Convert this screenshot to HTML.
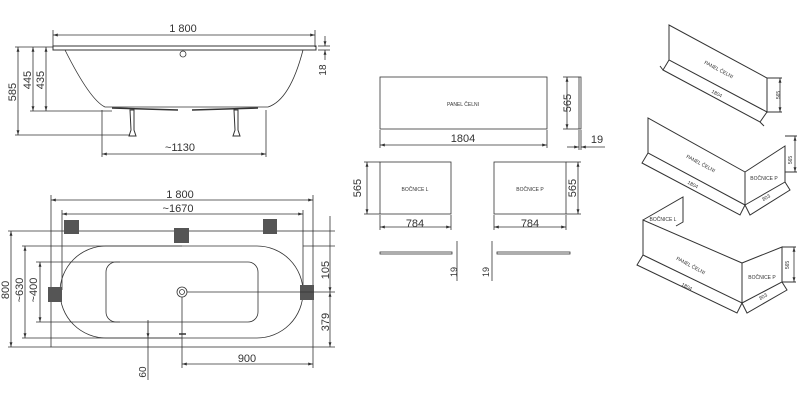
<!DOCTYPE html>
<html><head><style>html,body{margin:0;padding:0;background:#fff}svg{display:block}</style></head>
<body>
<svg width="800" height="401" viewBox="0 0 800 401" xmlns="http://www.w3.org/2000/svg" font-family="Liberation Sans, sans-serif" fill="none" stroke="#333" stroke-width="0.8">
<defs>
<marker id="a" viewBox="0 0 10 10" refX="10" refY="5" markerWidth="6" markerHeight="6" orient="auto-start-reverse"><path d="M0,2 L10,5 L0,8z" fill="#333" stroke="none"/></marker>
</defs>
<g fill="#333" stroke="none" font-size="11">
<text x="183" y="32" text-anchor="middle">1 800</text>
<text x="180" y="151" text-anchor="middle">~1130</text>
<text x="326" y="70" text-anchor="middle" transform="rotate(-90 326 70)" font-size="10">18</text>
<text x="16" y="92" text-anchor="middle" transform="rotate(-90 16 92)">585</text>
<text x="31" y="80" text-anchor="middle" transform="rotate(-90 31 80)">445</text>
<text x="44" y="80" text-anchor="middle" transform="rotate(-90 44 80)">435</text>
<text x="180" y="198" text-anchor="middle">1 800</text>
<text x="178" y="212" text-anchor="middle">~1670</text>
<text x="9" y="290" text-anchor="middle" transform="rotate(-90 9 290)">800</text>
<text x="23" y="290" text-anchor="middle" transform="rotate(-90 23 290)">~630</text>
<text x="37" y="290" text-anchor="middle" transform="rotate(-90 37 290)">~400</text>
<text x="329" y="270" text-anchor="middle" transform="rotate(-90 329 270)">105</text>
<text x="329" y="322" text-anchor="middle" transform="rotate(-90 329 322)">379</text>
<text x="247" y="362" text-anchor="middle">900</text>
<text x="146" y="372" text-anchor="middle" transform="rotate(-90 146 372)" font-size="10">60</text>
<text x="463" y="142" text-anchor="middle">1804</text>
<text x="571" y="103" text-anchor="middle" transform="rotate(-90 571 103)">565</text>
<text x="597" y="143" text-anchor="middle">19</text>
<text x="361" y="188" text-anchor="middle" transform="rotate(-90 361 188)">565</text>
<text x="576" y="188" text-anchor="middle" transform="rotate(-90 576 188)">565</text>
<text x="415" y="227" text-anchor="middle">784</text>
<text x="530" y="227" text-anchor="middle">784</text>
<text x="457" y="272" text-anchor="middle" transform="rotate(-90 457 272)" font-size="9">19</text>
<text x="489" y="272" text-anchor="middle" transform="rotate(-90 489 272)" font-size="9">19</text>
<g font-size="5">
<text x="463" y="106" text-anchor="middle">PANEL ČELNI</text>
<text x="415" y="191" text-anchor="middle">BOČNICE L</text>
<text x="530" y="191" text-anchor="middle">BOČNICE P</text>
<text x="718" y="71" transform="rotate(28 718 71)" text-anchor="middle">PANEL ČELNI</text>
<text x="716" y="95" transform="rotate(28 716 95)" text-anchor="middle">1804</text>
<text x="780" y="95" transform="rotate(-90 780 95)" text-anchor="middle">565</text>
<text x="700" y="165" transform="rotate(28 700 165)" text-anchor="middle">PANEL ČELNI</text>
<text x="692" y="186" transform="rotate(28 692 186)" text-anchor="middle">1804</text>
<text x="764" y="180" text-anchor="middle">BOČNICE P</text>
<text x="792" y="160" transform="rotate(-90 792 160)" text-anchor="middle">565</text>
<text x="767" y="199" transform="rotate(-30 767 199)" text-anchor="middle">803</text>
<text x="663" y="221" text-anchor="middle">BOČNICE L</text>
<text x="690" y="267" transform="rotate(28 690 267)" text-anchor="middle">PANEL ČELNI</text>
<text x="686" y="288" transform="rotate(28 686 288)" text-anchor="middle">1804</text>
<text x="762" y="279" text-anchor="middle">BOČNICE P</text>
<text x="789" y="265" transform="rotate(-90 789 265)" text-anchor="middle">565</text>
<text x="764" y="298" transform="rotate(-30 764 298)" text-anchor="middle">803</text>
</g>
</g>
<!-- side view -->
<line x1="53" y1="35" x2="315" y2="35" marker-start="url(#a)" marker-end="url(#a)"/>
<line x1="53" y1="30" x2="53" y2="47"/><line x1="315" y1="30" x2="315" y2="47"/>
<rect x="53" y="46" width="263" height="4" stroke-width="1"/>
<path d="M65,50 Q90,100 105,107 L268,107 Q290,100 303,50"/>
<path d="M112,108 L178,110 M192,110 L258,108" stroke-width="1.5"/>
<circle cx="183" cy="54" r="3"/>
<path d="M130,110 L134,110 L134,130 L136,136 L129,136 L131,130z M234,110 L238,110 L238,130 L240,136 L233,136 L235,130z" stroke-width="1"/>
<line x1="15" y1="47" x2="53" y2="47"/><line x1="30" y1="111" x2="112" y2="111"/><line x1="15" y1="135" x2="130" y2="135"/>
<line x1="18" y1="47" x2="18" y2="135" marker-start="url(#a)" marker-end="url(#a)"/>
<line x1="33" y1="47" x2="33" y2="111" marker-start="url(#a)" marker-end="url(#a)"/>
<line x1="46" y1="47" x2="46" y2="111" marker-start="url(#a)" marker-end="url(#a)"/>
<line x1="102" y1="110" x2="102" y2="157"/><line x1="266" y1="110" x2="266" y2="157"/>
<line x1="102" y1="154" x2="266" y2="154" marker-start="url(#a)" marker-end="url(#a)"/>
<line x1="325" y1="36" x2="325" y2="46" marker-end="url(#a)"/><line x1="325" y1="60" x2="325" y2="50" marker-end="url(#a)"/>
<line x1="318" y1="46" x2="330" y2="46"/><line x1="318" y1="50" x2="330" y2="50"/>
<!-- plan view -->
<line x1="51" y1="200" x2="313" y2="200" marker-start="url(#a)" marker-end="url(#a)"/>
<line x1="62" y1="214" x2="303" y2="214" marker-start="url(#a)" marker-end="url(#a)"/>
<line x1="51" y1="195" x2="51" y2="231"/><line x1="313" y1="195" x2="313" y2="231"/>
<line x1="62" y1="210" x2="62" y2="290"/><line x1="303" y1="210" x2="303" y2="290"/>
<rect x="51" y="231" width="262" height="116"/>
<rect x="60" y="246" width="243" height="92" rx="46"/>
<rect x="106" y="262" width="152" height="60" rx="10"/>
<circle cx="182" cy="292" r="5"/><circle cx="182" cy="292" r="2.5"/>
<g fill="#555" stroke="none">
<rect x="64" y="220" width="15" height="14"/><rect x="174" y="228" width="15" height="15"/><rect x="263" y="219" width="14" height="15"/>
<rect x="48" y="287" width="14" height="15"/><rect x="300" y="285" width="14" height="15"/>
</g>
<line x1="8" y1="231" x2="51" y2="231"/><line x1="8" y1="347" x2="51" y2="347"/>
<line x1="22" y1="246" x2="182" y2="246"/><line x1="22" y1="338" x2="182" y2="338"/>
<line x1="36" y1="262" x2="120" y2="262"/><line x1="36" y1="322" x2="120" y2="322"/>
<line x1="11" y1="231" x2="11" y2="347" marker-start="url(#a)" marker-end="url(#a)"/>
<line x1="25" y1="246" x2="25" y2="338" marker-start="url(#a)" marker-end="url(#a)"/>
<line x1="40" y1="262" x2="40" y2="322" marker-start="url(#a)" marker-end="url(#a)"/>
<line x1="313" y1="231" x2="335" y2="231"/><line x1="303" y1="246" x2="335" y2="246"/><line x1="187" y1="292" x2="335" y2="292"/><line x1="313" y1="347" x2="335" y2="347"/>
<line x1="330" y1="216" x2="330" y2="292" marker-end="url(#a)"/>
<line x1="330" y1="292" x2="330" y2="347" marker-start="url(#a)" marker-end="url(#a)"/>
<line x1="182" y1="297" x2="182" y2="368"/><line x1="313" y1="347" x2="313" y2="368"/>
<line x1="182" y1="364" x2="313" y2="364" marker-start="url(#a)" marker-end="url(#a)"/>
<line x1="148" y1="322" x2="148" y2="380"/>
<line x1="148" y1="320" x2="148" y2="338" marker-end="url(#a)"/>
<line x1="179" y1="334" x2="186" y2="334" stroke-width="1.5"/>
<!-- middle -->
<rect x="380" y="77" width="167" height="52"/>
<rect x="579" y="77" width="2" height="52"/>
<line x1="380" y1="130" x2="380" y2="148"/><line x1="547" y1="130" x2="547" y2="148"/>
<line x1="380" y1="145" x2="547" y2="145" marker-start="url(#a)" marker-end="url(#a)"/>
<line x1="563" y1="77" x2="579" y2="77"/><line x1="563" y1="129" x2="579" y2="129"/>
<line x1="567" y1="77" x2="567" y2="129" marker-start="url(#a)" marker-end="url(#a)"/>
<line x1="579" y1="130" x2="579" y2="150"/><line x1="581" y1="130" x2="581" y2="150"/>
<line x1="567" y1="147" x2="579" y2="147" marker-end="url(#a)"/><line x1="605" y1="147" x2="581" y2="147" marker-end="url(#a)"/>
<rect x="380" y="162" width="71" height="52"/>
<rect x="494" y="162" width="72" height="52"/>
<line x1="364" y1="162" x2="380" y2="162"/><line x1="364" y1="214" x2="380" y2="214"/>
<line x1="367" y1="162" x2="367" y2="214" marker-start="url(#a)" marker-end="url(#a)"/>
<line x1="566" y1="162" x2="581" y2="162"/><line x1="566" y1="214" x2="581" y2="214"/>
<line x1="578" y1="162" x2="578" y2="214" marker-start="url(#a)" marker-end="url(#a)"/>
<line x1="380" y1="215" x2="380" y2="230"/><line x1="451" y1="215" x2="451" y2="230"/>
<line x1="494" y1="215" x2="494" y2="230"/><line x1="566" y1="215" x2="566" y2="230"/>
<line x1="380" y1="227" x2="451" y2="227" marker-start="url(#a)" marker-end="url(#a)"/>
<line x1="494" y1="227" x2="566" y2="227" marker-start="url(#a)" marker-end="url(#a)"/>
<rect x="380" y="252" width="72" height="2"/><rect x="497" y="252" width="73" height="2"/>
<line x1="457" y1="241" x2="457" y2="281"/><line x1="492" y1="241" x2="492" y2="281"/>
<!-- isometric -->
<g stroke-width="1">
<path d="M669,25 L669,60 L767,112 L767,78 Z"/>
<path d="M669,60 L663,70 L760,122 L767,112 M663,70 L660,66 M760,122 L764,126"/>
<path d="M767,78 L782,78 M767,112 L782,112"/><line x1="780" y1="78" x2="780" y2="112" marker-start="url(#a)" marker-end="url(#a)" stroke-width="0.8"/>
<path d="M648,118 L648,153 L745,205 L745,172 Z M745,172 L785,146 L785,182 L745,205"/>
<path d="M648,153 L642,163 L740,215 L745,205 M745,205 L750,215 L790,190 L785,182"/>
<path d="M785,136 L797,136 M785,172 L797,172"/><line x1="795" y1="136" x2="795" y2="172" marker-start="url(#a)" marker-end="url(#a)" stroke-width="0.8"/>
<path d="M643,220 L643,255 L742,303 L742,263 Z M742,263 L782,247 L782,282 L742,303 M643,220 L683,197 L683,222 L676,226"/>
<path d="M643,255 L637,265 L737,313 L742,303 M742,303 L747,313 L787,290 L782,282"/>
<path d="M782,247 L796,247 M782,282 L796,282"/><line x1="794" y1="247" x2="794" y2="282" marker-start="url(#a)" marker-end="url(#a)" stroke-width="0.8"/>
</g>
</svg>
</body></html>
